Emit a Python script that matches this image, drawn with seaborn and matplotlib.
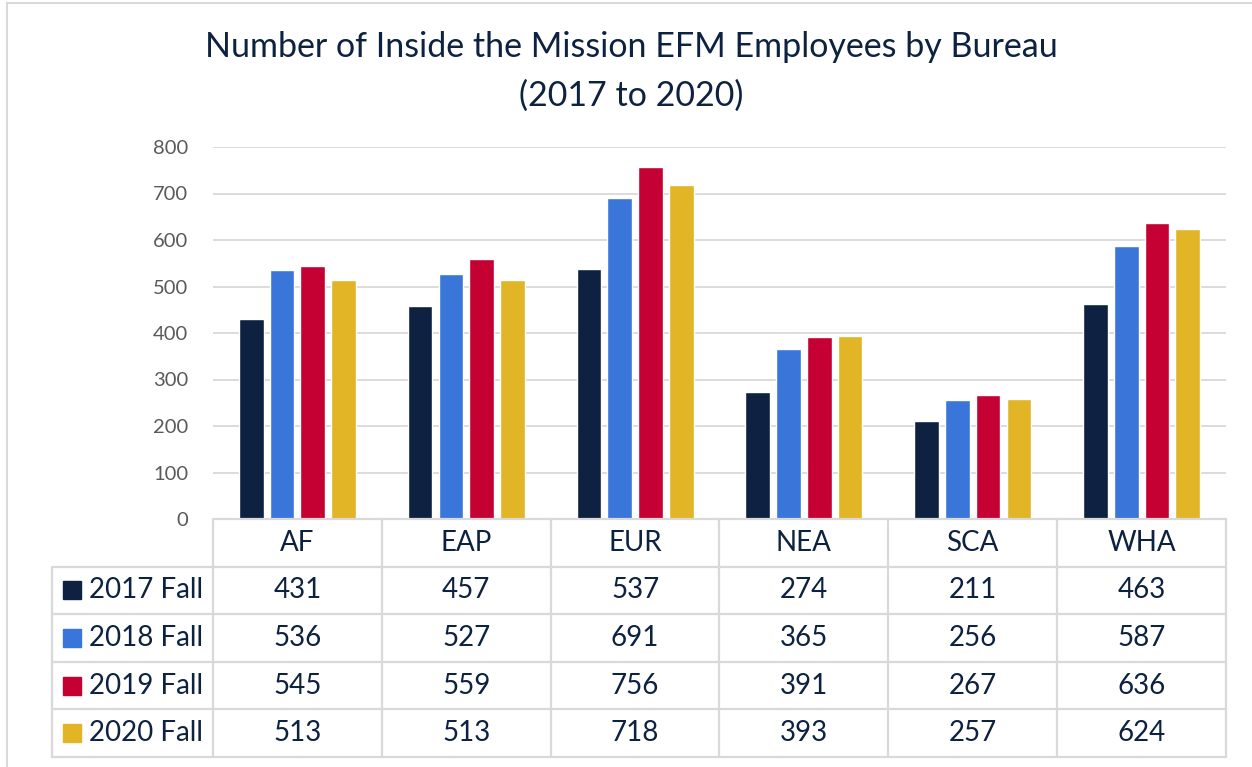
import numpy as np
import pandas as pd
import matplotlib.pyplot as plt
import seaborn as sns
from matplotlib.lines import Line2D
from matplotlib.patches import Rectangle

# data
bureaus = ["AF", "EAP", "EUR", "NEA", "SCA", "WHA"]
seasons = ["2017 Fall", "2018 Fall", "2019 Fall", "2020 Fall"]
fall_2017 = [431, 457, 537, 274, 211, 463]
fall_2018 = [536, 527, 691, 365, 256, 587]
fall_2019 = [545, 559, 756, 391, 267, 636]
fall_2020 = [513, 513, 718, 393, 257, 624]
colors = ["#0E2141", "#3A75D9", "#C50032", "#E1B526"]
yticks = [0, 100, 200, 300, 400, 500, 600, 700, 800]

series = [fall_2017, fall_2018, fall_2019, fall_2020]
df = pd.DataFrame({
    "bureau": bureaus * len(seasons),
    "season": np.repeat(seasons, len(bureaus)),
    "count": np.concatenate(series),
})

sns.set_theme(style="white")
plt.rcParams["font.family"] = ["Lato", "DejaVu Sans"]

W, H = 1252, 767
text_color = "#0D2240"
line_color = "#D9D9D9"

fig = plt.figure(figsize=(W / 100, H / 100), dpi=100)

# bar chart
ax = fig.add_axes([213 / W, 1 - 519 / H, (1226 - 213) / W, (519 - 147) / H])
sns.barplot(data=df, x="bureau", y="count", hue="season", palette=colors,
            width=0.73, gap=0.2, saturation=1, legend=False, ax=ax)
ax.set_ylim(0, 800)
ax.set_xlim(-0.5, len(bureaus) - 0.5)
ax.set_yticks(yticks)
ax.yaxis.grid(True, color=line_color, lw=1.3)
ax.set_axisbelow(True)
for s in ax.spines.values():
    s.set_visible(False)
ax.set_xticks([])
ax.set_xlabel("")
ax.set_ylabel("")
ax.tick_params(axis="y", length=0, pad=18, labelsize=14.5, labelcolor="#595959")

# data table under the chart
tab = fig.add_axes([213 / W, 1 - 757 / H, (1226 - 213) / W, (757 - 519) / H])
tab.set_xlim(ax.get_xlim())
tab.set_ylim(len(seasons) + 1, 0)
tab.axis("off")

unit = (1226 - 213) / len(bureaus)  # px per category
x_left = -0.5 - (213 - 52) / unit
x_right = len(bureaus) - 0.5
lw = 1.6

tab.add_line(Line2D([-0.5, x_right], [0, 0], color=line_color, lw=lw, clip_on=False))
for r in range(1, len(seasons) + 2):
    tab.add_line(Line2D([x_left, x_right], [r, r], color=line_color, lw=lw, clip_on=False))
for k in range(len(bureaus) + 1):
    tab.add_line(Line2D([-0.5 + k, -0.5 + k], [0, len(seasons) + 1],
                        color=line_color, lw=lw, clip_on=False))
tab.add_line(Line2D([x_left, x_left], [1, len(seasons) + 1], color=line_color, lw=lw, clip_on=False))

for i, b in enumerate(bureaus):
    tab.text(i, 0.5, b, ha="center", va="center", fontsize=20, color=text_color)

row_px = (757 - 519) / (len(seasons) + 1)
sq_w = 18 / unit
sq_h = 18 / row_px
for r, (name, vals, c) in enumerate(zip(seasons, series, colors)):
    y = r + 1.5
    tab.add_patch(Rectangle((-0.5 - (213 - 63) / unit, y - sq_h / 2), sq_w, sq_h,
                            color=c, clip_on=False))
    tab.text(-0.5 - (213 - 89) / unit, y, name, ha="left", va="center",
             fontsize=20, color=text_color, clip_on=False)
    for i, v in enumerate(vals):
        tab.text(i, y, str(v), ha="center", va="center", fontsize=20, color=text_color)

# title
fig.text(631 / W, 1 - 47 / H, "Number of Inside the Mission EFM Employees by Bureau",
         ha="center", va="center", fontsize=24.5, color=text_color)
fig.text(631 / W, 1 - 96 / H, "(2017 to 2020)",
         ha="center", va="center", fontsize=24.5, color=text_color)

# chart frame (top and left edges visible)
fig.add_artist(Line2D([7 / W, 1], [1 - 3 / H, 1 - 3 / H], color=line_color, lw=1.5))
fig.add_artist(Line2D([7 / W, 7 / W], [0, 1 - 3 / H], color=line_color, lw=1.5))

plt.savefig("out.png", dpi=100)
plt.close()
